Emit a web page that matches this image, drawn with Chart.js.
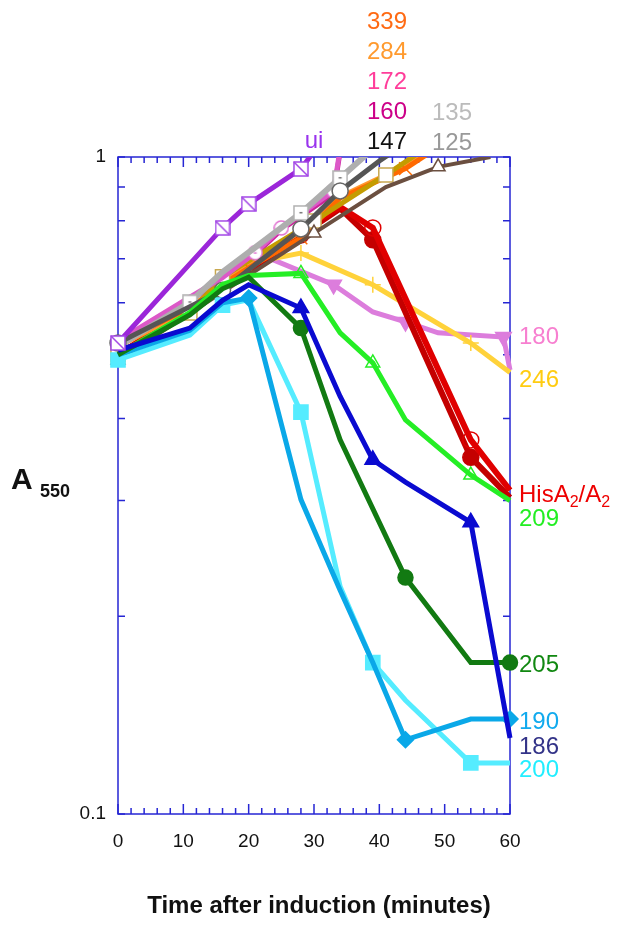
<!DOCTYPE html>
<html>
<head>
<meta charset="utf-8">
<script src="https://cdn.jsdelivr.net/npm/chart.js@4"></script>
<style>
  body { margin: 0; background: #fff; }
  canvas { display: block; }
</style>
</head>
<body>
<canvas id="chart" width="617" height="926"></canvas>
<script>
// time (minutes) and A550 for every strain
const uiTime = [0, 16, 20, 28, 30];
const uiA550 = [0.521, 0.780, 0.848, 0.959, 1.02];

const s135Time = [0, 11, 16, 28, 34, 40];
const s135A550 = [0.515, 0.601, 0.668, 0.822, 0.929, 1.05];

const s147Time = [0, 16, 28, 34, 40, 44];
const s147A550 = [0.521, 0.627, 0.777, 0.888, 0.986, 1.05];

const goldTime = [0, 11, 16, 30, 41, 47];
const goldA550 = [0.50, 0.579, 0.657, 0.799, 0.939, 1.03];

const s125Time = [0, 16, 30, 41, 49, 57];
const s125A550 = [0.491, 0.623, 0.766, 0.900, 0.966, 1.0];

const s339Time = [0, 11, 16, 20, 28, 34, 44, 48];
const s339A550 = [0.52, 0.59, 0.64, 0.678, 0.753, 0.866, 0.96, 1.02];

const s284Time = [0, 11, 16, 20, 28, 34, 44, 48];
const s284A550 = [0.515, 0.585, 0.645, 0.69, 0.77, 0.87, 0.97, 1.03];

const s172Time = [0, 11, 16, 21, 25, 33, 34];
const s172A550 = [0.525, 0.612, 0.655, 0.715, 0.78, 0.888, 1.03];

const s160Time = [0, 11, 16, 21, 25, 33, 34];
const s160A550 = [0.52, 0.605, 0.65, 0.71, 0.775, 0.88, 1.02];

const hisOpenTime = [0, 16, 28, 34, 39, 54, 60];
const hisOpenA550 = [0.5, 0.63, 0.774, 0.839, 0.78, 0.371, 0.311];

const hisFillTime = [0, 16, 28, 34, 39, 54, 60];
const hisFillA550 = [0.5, 0.63, 0.761, 0.835, 0.748, 0.349, 0.303];

const s246Time = [0, 11, 16, 22, 28, 39, 54, 60];
const s246A550 = [0.5, 0.58, 0.635, 0.695, 0.714, 0.639, 0.521, 0.470];

const s180Time = [0, 11, 16, 22, 33, 39, 44, 49, 59, 60];
const s180A550 = [0.5, 0.58, 0.64, 0.709, 0.639, 0.581, 0.561, 0.540, 0.532, 0.474];

const s209Time = [0, 11, 16, 20, 28, 34, 39, 44, 54, 60];
const s209A550 = [0.5, 0.58, 0.64, 0.66, 0.665, 0.540, 0.486, 0.398, 0.328, 0.300];

const s205Time = [0, 11, 16, 20, 28, 34, 44, 54, 60];
const s205A550 = [0.5, 0.575, 0.63, 0.656, 0.549, 0.371, 0.229, 0.170, 0.170];

const s186Time = [0, 11, 16, 20, 28, 34, 39, 44, 54, 60];
const s186A550 = [0.508, 0.549, 0.605, 0.639, 0.589, 0.432, 0.346, 0.320, 0.278, 0.1305];

const s190Time = [0, 11, 16, 20, 28, 34, 39, 44, 54, 60];
const s190A550 = [0.5, 0.545, 0.600, 0.610, 0.301, 0.219, 0.170, 0.1297, 0.1395, 0.1395];

const s200Time = [0, 11, 16, 20, 28, 34, 39, 44, 54, 60];
const s200A550 = [0.491, 0.536, 0.595, 0.606, 0.409, 0.222, 0.170, 0.149, 0.1196, 0.1196];

const xTickLabels = [0, 10, 20, 30, 40, 50, 60];
const xMinorTicks = [0, 2, 4, 6, 8, 10, 12, 14, 16, 18, 20, 22, 24, 26, 28, 30, 32, 34, 36, 38, 40, 42, 44, 46, 48, 50, 52, 54, 56, 58, 60];
const yTicks = [0.1, 0.2, 0.3, 0.4, 0.5, 0.6, 0.7, 0.8, 0.9, 1];

const FONT = "'Liberation Sans', Arial, Helvetica, sans-serif";

function marker(size, draw) {
  const c = document.createElement("canvas");
  c.width = c.height = size;
  draw(c.getContext("2d"), size);
  return c;
}

const uiMark = marker(16, (g, s) => {
  g.fillStyle = "#fff"; g.fillRect(1, 1, s - 2, s - 2);
  g.strokeStyle = "#a347e6"; g.lineWidth = 1.5;
  g.strokeRect(1, 1, s - 2, s - 2);
  g.beginPath(); g.moveTo(1, 1); g.lineTo(s - 1, s - 1); g.stroke();
});
const graySqMark = marker(16, (g, s) => {
  g.fillStyle = "#fff"; g.fillRect(1, 1, s - 2, s - 2);
  g.strokeStyle = "#b0b0b0"; g.lineWidth = 1.5;
  g.strokeRect(1, 1, s - 2, s - 2);
  g.fillStyle = "#777"; g.fillRect(s / 2 - 1.5, s / 2 - 1, 3, 1.5);
});
const pinkDotMark = marker(16, (g, s) => {
  g.beginPath(); g.arc(s / 2, s / 2, s / 2 - 1, 0, Math.PI * 2);
  g.fillStyle = "#fff"; g.fill();
  g.strokeStyle = "#e070d0"; g.lineWidth = 1.5; g.stroke();
  g.fillStyle = "#e070d0"; g.fillRect(s / 2 - 1.5, s / 2 - 0.5, 3, 1.5);
});

function series(times, vals, color, width, style, marks) {
  const m = style || {};
  return {
    data: times.map((t, i) => ({ x: t, y: vals[i] })),
    borderColor: color,
    borderWidth: width,
    tension: 0,
    fill: false,
    clip: { left: 12, right: 12, top: 0, bottom: 12 },
    pointStyle: m.shape || "circle",
    pointRotation: m.rotation || 0,
    pointBackgroundColor: m.fill || color,
    pointBorderColor: m.stroke || color,
    pointBorderWidth: m.lineWidth || 1.5,
    pointRadius: c => (marks || []).includes(c.raw.x) ? (m.radius || 7) : 0,
    pointHoverRadius: 0
  };
}

// first in the list is drawn on top
const datasets = [
  series(uiTime, uiA550, "#9b26d9", 5, { shape: uiMark }, [0, 16, 20, 28]),
  series(s186Time, s186A550, "#0a0ad0", 5, { shape: "triangle", radius: 9 }, [28, 39, 54]),
  series(s205Time, s205A550, "#127a12", 5, { radius: 7.5 }, [28, 44, 60]),
  series(s190Time, s190A550, "#0aa8e8", 5, { shape: "rectRot", radius: 8 }, [20, 44, 60]),
  series(s200Time, s200A550, "#55ecff", 5, { shape: "rect", radius: 10 }, [0, 16, 28, 39, 54]),
  series(s209Time, s209A550, "#25ee25", 5, { shape: "triangle", fill: "rgba(0,0,0,0)", radius: 8 }, [28, 39, 54]),
  series(s147Time, s147A550, "#555555", 5, { fill: "#fff", stroke: "#666", radius: 8 }, [0, 16, 28, 34]),
  series(s135Time, s135A550, "#aeaeae", 6, { shape: graySqMark }, [11, 28, 34]),
  series(s172Time, s172A550, "#dc58c8", 5, { shape: pinkDotMark }, [21, 25, 33]),
  series(s125Time, s125A550, "#6b4f40", 4, { shape: "triangle", fill: "#fff", stroke: "#6b4f40", radius: 8 }, [0, 16, 30, 49]),
  series(goldTime, goldA550, "#c49c00", 5, { shape: "rect", fill: "#fff", stroke: "#c8a850", radius: 10 }, [0, 11, 16, 30, 41]),
  series(s339Time, s339A550, "#ff6a00", 5, { shape: "crossRot", radius: 9 }, [20, 28, 44]),
  series(s284Time, s284A550, "#ff9a30", 5, {}, []),
  series(s160Time, s160A550, "#cc2299", 5, {}, []),
  series(hisOpenTime, hisOpenA550, "#e00000", 6, { fill: "rgba(0,0,0,0)", radius: 8 }, [39, 54]),
  series(hisFillTime, hisFillA550, "#c40000", 6, { radius: 8 }, [28, 39, 54]),
  series(s246Time, s246A550, "#ffd23a", 5, { shape: "cross", radius: 8 }, [28, 39, 54]),
  series(s180Time, s180A550, "#dc7ddc", 5, { shape: "triangle", rotation: 180, radius: 9 }, [33, 44, 59])
];

const topLabels = [
  ["339", 387, 22, "#ff6a13"],
  ["284", 387, 52, "#ff9a2e"],
  ["172", 387, 82, "#ff3d9a"],
  ["160", 387, 112, "#cc0088"],
  ["147", 387, 142, "#111111"],
  ["135", 452, 113, "#bbbbbb"],
  ["125", 452, 143, "#999999"],
  ["ui", 314, 141, "#9933ee"]
];
const rightLabels = [
  ["180", 337, "#f77fd0"],
  ["246", 380, "#ffcc11"],
  ["209", 519, "#22ee22"],
  ["205", 665, "#118811"],
  ["190", 722, "#11aaee"],
  ["186", 747, "#333388"],
  ["200", 770, "#22eeff"]
];

const frame = {
  id: "frame",
  beforeDatasetsDraw(chart) {
    const { ctx, chartArea: a, scales: { x, y } } = chart;
    ctx.save();
    ctx.strokeStyle = "#2626d4";
    ctx.lineWidth = 1.5;
    ctx.strokeRect(a.left, a.top, a.right - a.left, a.bottom - a.top);
    ctx.beginPath();
    xMinorTicks.forEach(t => {
      const px = x.getPixelForValue(t);
      const len = t % 10 === 0 ? 10 : 6;
      ctx.moveTo(px, a.bottom); ctx.lineTo(px, a.bottom - len);
      ctx.moveTo(px, a.top); ctx.lineTo(px, a.top + len);
    });
    yTicks.forEach(v => {
      const py = y.getPixelForValue(v);
      ctx.moveTo(a.left, py); ctx.lineTo(a.left + 7, py);
      ctx.moveTo(a.right, py); ctx.lineTo(a.right - 7, py);
    });
    ctx.stroke();
    ctx.restore();
  },
  afterDraw(chart) {
    const { ctx, chartArea: a } = chart;
    ctx.save();
    ctx.textBaseline = "middle";
    ctx.font = "24px " + FONT;
    ctx.textAlign = "center";
    topLabels.forEach(([t, px, py, c]) => { ctx.fillStyle = c; ctx.fillText(t, px, py); });
    ctx.textAlign = "left";
    rightLabels.forEach(([t, py, c]) => { ctx.fillStyle = c; ctx.fillText(t, a.right + 9, py); });

    // HisA2/A2 with subscripts
    let px = a.right + 9;
    const py = 495;
    ctx.fillStyle = "#ee0000";
    [["HisA", false], ["2", true], ["/A", false], ["2", true]].forEach(([t, sub]) => {
      ctx.font = (sub ? "16px " : "24px ") + FONT;
      ctx.fillText(t, px, sub ? py + 8 : py);
      px += ctx.measureText(t).width;
    });

    // axis titles
    ctx.fillStyle = "#111";
    ctx.textBaseline = "alphabetic";
    ctx.font = "bold 30px " + FONT;
    ctx.fillText("A", 11, 489);
    ctx.font = "bold 18px " + FONT;
    ctx.fillText("550", 40, 497);
    ctx.textAlign = "center";
    ctx.font = "bold 24px " + FONT;
    ctx.fillText("Time after induction (minutes)", 319, 913);
    ctx.restore();
  }
};

new Chart(document.getElementById("chart"), {
  type: "line",
  data: { datasets },
  plugins: [frame],
  options: {
    responsive: false,
    animation: false,
    layout: { padding: { top: 157, right: 107, left: 0, bottom: 0 } },
    plugins: { legend: { display: false }, tooltip: { enabled: false } },
    scales: {
      x: {
        type: "linear",
        min: 0,
        max: 60,
        afterBuildTicks: s => { s.ticks = xTickLabels.map(v => ({ value: v })); },
        ticks: { color: "#111", font: { size: 19, family: FONT }, padding: 16, maxRotation: 0 },
        grid: { display: false, drawTicks: false },
        border: { display: false },
        afterFit: s => { s.height = 112; }
      },
      y: {
        type: "logarithmic",
        min: 0.1,
        max: 1,
        afterBuildTicks: s => { s.ticks = yTicks.map(v => ({ value: v })); },
        ticks: {
          color: "#111",
          font: { size: 19, family: FONT },
          padding: 12,
          autoSkip: false,
          callback: v => Math.abs(v - 1) < 1e-9 ? "1" : Math.abs(v - 0.1) < 1e-9 ? "0.1" : ""
        },
        grid: { display: false, drawTicks: false },
        border: { display: false },
        afterFit: s => { s.width = 118; }
      }
    }
  }
});
</script>
</body>
</html>
